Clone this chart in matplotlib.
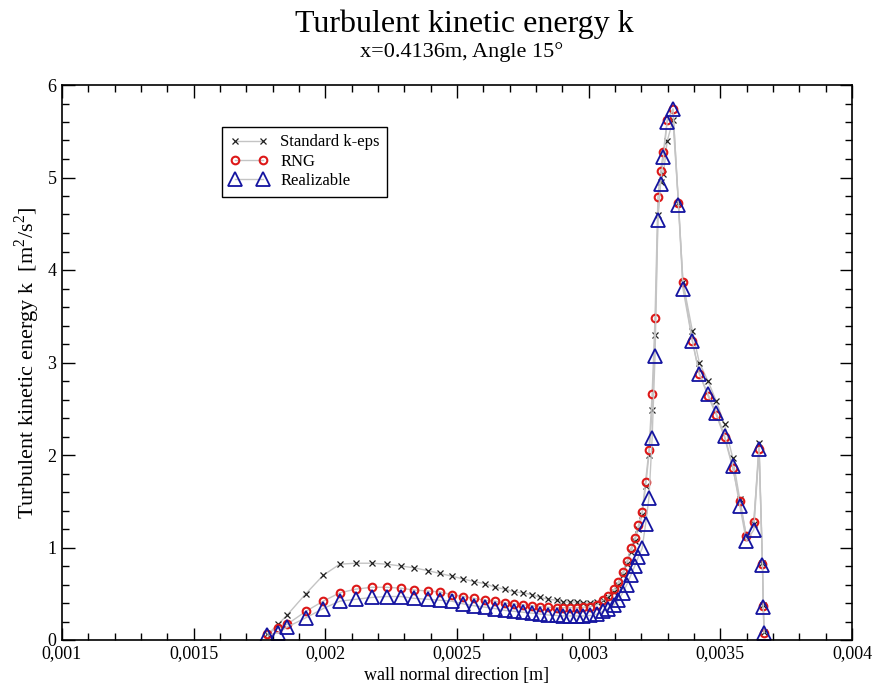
import matplotlib
matplotlib.use("Agg")
import matplotlib.pyplot as plt
from matplotlib.ticker import MultipleLocator

# ---- data ----
x_pos = [0.001780, 0.001821, 0.001855, 0.001926, 0.001992, 0.002055, 0.002116, 0.002176,
         0.002233, 0.002287, 0.002338, 0.002389, 0.002435, 0.002480, 0.002524, 0.002566,
         0.002606, 0.002644, 0.002682, 0.002717, 0.002752, 0.002784, 0.002816, 0.002847,
         0.002879, 0.002904, 0.002930, 0.002955, 0.002980, 0.003006, 0.003031, 0.003054,
         0.003075, 0.003097, 0.003113, 0.003129, 0.003145, 0.003160, 0.003175, 0.003189,
         0.003203, 0.003216, 0.003229, 0.003241, 0.003252, 0.003263, 0.003273, 0.003284,
         0.003298, 0.003320, 0.003341, 0.003358, 0.003394, 0.003420, 0.003453, 0.003485,
         0.003516, 0.003547, 0.003574, 0.003599, 0.003627, 0.003647, 0.003660, 0.003663,
         0.003666]

k_standard = [0.06, 0.17, 0.27, 0.50, 0.70, 0.82, 0.83, 0.83,
              0.82, 0.80, 0.78, 0.75, 0.72, 0.69, 0.66, 0.63,
              0.61, 0.57, 0.55, 0.52, 0.51, 0.49, 0.46, 0.44,
              0.43, 0.41, 0.41, 0.41, 0.40, 0.40, 0.41, 0.43,
              0.46, 0.52, 0.60, 0.70, 0.82, 0.95, 1.07, 1.20,
              1.35, 1.66, 2.00, 2.49, 3.30, 4.60, 4.95, 5.04,
              5.39, 5.62, 4.72, 3.87, 3.34, 3.00, 2.80, 2.58,
              2.33, 1.97, 1.52, 1.12, 1.25, 2.13, 0.83, 0.38,
              0.09]

k_rng = [0.07, 0.13, 0.17, 0.31, 0.42, 0.51, 0.55, 0.57,
         0.57, 0.56, 0.54, 0.53, 0.52, 0.49, 0.47, 0.45,
         0.43, 0.42, 0.40, 0.39, 0.38, 0.37, 0.36, 0.355,
         0.35, 0.35, 0.35, 0.35, 0.355, 0.36, 0.38, 0.43,
         0.48, 0.55, 0.63, 0.73, 0.85, 0.99, 1.10, 1.24,
         1.38, 1.71, 2.05, 2.66, 3.48, 4.79, 5.07, 5.28,
         5.62, 5.74, 4.72, 3.87, 3.23, 2.88, 2.64, 2.43,
         2.19, 1.86, 1.50, 1.12, 1.28, 2.06, 0.82, 0.37,
         0.08]

k_realizable = [0.05, 0.08, 0.14, 0.24, 0.34, 0.42, 0.44, 0.46,
                0.47, 0.47, 0.45, 0.44, 0.43, 0.42, 0.39, 0.37,
                0.355, 0.34, 0.32, 0.31, 0.30, 0.29, 0.28, 0.27,
                0.265, 0.26, 0.26, 0.26, 0.26, 0.265, 0.28, 0.31,
                0.34, 0.38, 0.43, 0.51, 0.60, 0.70, 0.80, 0.90,
                0.99, 1.25, 1.54, 2.18, 3.07, 4.54, 4.93, 5.22,
                5.60, 5.74, 4.70, 3.80, 3.23, 2.88, 2.66, 2.45,
                2.21, 1.88, 1.45, 1.07, 1.19, 2.06, 0.81, 0.36,
                0.08]

series_names = ["Standard k-eps", "RNG", "Realizable"]
x_ticks = [0.001, 0.0015, 0.002, 0.0025, 0.003, 0.0035, 0.004]
x_tick_labels = ["0,001", "0,0015", "0,002", "0,0025", "0,003", "0,0035", "0,004"]
y_ticks = [0, 1, 2, 3, 4, 5, 6]

plt.rcParams['font.family'] = ['Liberation Serif', 'DejaVu Serif']
plt.rcParams['mathtext.fontset'] = 'custom'
plt.rcParams['mathtext.rm'] = 'Liberation Serif'

W, H = 882, 699
fig = plt.figure(figsize=(W / 100, H / 100), dpi=100)
ax = fig.add_axes([62 / W, 1 - 640 / H, (852 - 62) / W, (640 - 85) / H])

line_kw = dict(color='#c4c4c4', linewidth=1.0)
ax.plot(x_pos, k_standard, marker='x', markersize=5, markeredgewidth=0.9,
        markeredgecolor='#202020', label=series_names[0], **line_kw)
ax.plot(x_pos, k_rng, marker='o', markersize=5.5, markeredgewidth=1.5,
        markerfacecolor='none', markeredgecolor='#dd1818', label=series_names[1], **line_kw)
ax.plot(x_pos, k_realizable, marker='^', markersize=10.5, markeredgewidth=1.3,
        markerfacecolor='none', markeredgecolor='#1414a0', label=series_names[2], **line_kw)

ax.set_xlim(0.001, 0.004)
ax.set_ylim(0, 6)
ax.set_xticks(x_ticks)
ax.set_xticklabels(x_tick_labels)
ax.set_yticks(y_ticks)
ax.xaxis.set_minor_locator(MultipleLocator(0.0001))
ax.yaxis.set_minor_locator(MultipleLocator(0.2))
ax.tick_params(which='both', direction='in', top=True, right=True, labelsize=13, pad=4)
ax.tick_params(which='major', length=9, width=1)
ax.tick_params(which='minor', length=5, width=1)
for s in ax.spines.values():
    s.set_linewidth(1.2)

ax.set_xlabel("wall normal direction [m]", fontsize=13, labelpad=3)
ax.set_ylabel("Turbulent kinetic energy k  [m$^2$/s$^2$]", fontsize=16, labelpad=4)

cx = 464 / W
fig.text(cx, 1 - 24 / H, "Turbulent kinetic energy k", ha='center', va='center', fontsize=23)
fig.text(462 / W, 1 - 52 / H, "x=0.4136m, Angle 15°", ha='center', va='center', fontsize=16)

leg = ax.legend(loc='upper left', bbox_to_anchor=((222 - 62) / 790, (640 - 127) / 555),
                numpoints=2, fontsize=12, frameon=True, fancybox=False, edgecolor='black',
                framealpha=1, handlelength=2.3, handletextpad=0.75, borderpad=0.45,
                labelspacing=0.2, borderaxespad=0)
leg.get_frame().set_linewidth(1.0)

fig.savefig("out.png", dpi=100)
